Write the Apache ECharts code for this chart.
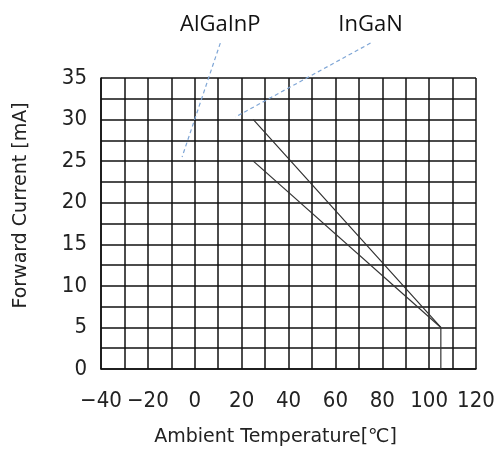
<!DOCTYPE html>
<html><head><meta charset="utf-8">
<script src="https://cdn.jsdelivr.net/npm/echarts@6/dist/echarts.min.js"></script>
<style>html,body{margin:0;padding:0;background:#fff}#c{width:499px;height:452px}</style>
</head><body><div id="c"></div>
<script>
// Data
var xTickLabels = [-40, -20, 0, 20, 40, 60, 80, 100, 120];
var yTickLabels = [0, 5, 10, 15, 20, 25, 30, 35];
var upperCurve = [[25, 30], [105, 5], [105, 0]];   // 30 mA derating
var lowerCurve = [[25, 25], [105, 5]];             // 25 mA derating
var leaderAlGaInP = [[10.9, 39.2], [-5.4, 25.5]];
var leaderInGaN = [[75, 39.2], [17.3, 30.3]];
var labelNames = ['AlGaInP', 'InGaN'];

var chart = echarts.init(document.getElementById('c'), null, {renderer: 'canvas'});
var tickFamily = "'Liberation Sans Narrow', 'DejaVu Sans Condensed', 'Liberation Sans', sans-serif";
function leader(pts, name) {
  return {
    type: 'line', clip: false, silent: true, symbol: 'none',
    lineStyle: {color: '#7fa6d6', width: 1.2, type: [4, 3]},
    data: [{value: pts[0], symbol: 'circle', symbolSize: 0.1,
            label: {show: true, position: 'top', distance: 7, formatter: name,
                    fontFamily: 'Open Sans', fontSize: 22, color: '#111'}}, pts[1]]
  };
}
chart.setOption({
  animation: false,
  grid: {left: 101, right: 23, top: 78, bottom: 82},
  xAxis: {
    type: 'value', min: -40, max: 120, interval: 10,
    name: 'Ambient Temperature[\u2103]', nameLocation: 'middle', nameGap: 59,
    nameTextStyle: {fontFamily: 'DejaVu Sans', fontSize: 19, color: '#222', padding: [0, 26, 0, 0]},
    axisLine: {show: true, onZero: false, lineStyle: {color: '#111', width: 1.5}},
    axisTick: {show: false},
    axisLabel: {showMinLabel: true, showMaxLabel: true, hideOverlap: false, margin: 21,
                formatter: function (v) { return xTickLabels.indexOf(v) >= 0 ? String(v).replace('-', '\u2212') : ''; },
                fontFamily: tickFamily, fontSize: 22, color: '#222'},
    splitLine: {show: true, lineStyle: {color: '#111', width: 1.5}}
  },
  yAxis: {
    type: 'value', min: 0, max: 35, interval: 2.5,
    name: 'Forward Current [mA]', nameLocation: 'middle', nameGap: 70,
    nameTextStyle: {fontFamily: 'DejaVu Sans', fontSize: 19, color: '#222', padding: [0, 0, 0, 36]},
    axisLine: {show: true, onZero: false, lineStyle: {color: '#111', width: 1.5}},
    axisTick: {show: false},
    axisLabel: {showMinLabel: true, showMaxLabel: true, hideOverlap: false, margin: 14,
                formatter: function (v) { return yTickLabels.indexOf(v) >= 0 ? String(v) : ''; },
                fontFamily: tickFamily, fontSize: 22, color: '#222'},
    splitLine: {show: true, lineStyle: {color: '#111', width: 1.5}}
  },
  series: [
    {type: 'line', symbol: 'none', data: upperCurve, lineStyle: {color: '#333', width: 1.2}},
    {type: 'line', symbol: 'none', data: lowerCurve, lineStyle: {color: '#333', width: 1.2}},
    leader(leaderAlGaInP, labelNames[0]),
    leader(leaderInGaN, labelNames[1])
  ]
});
</script></body></html>
